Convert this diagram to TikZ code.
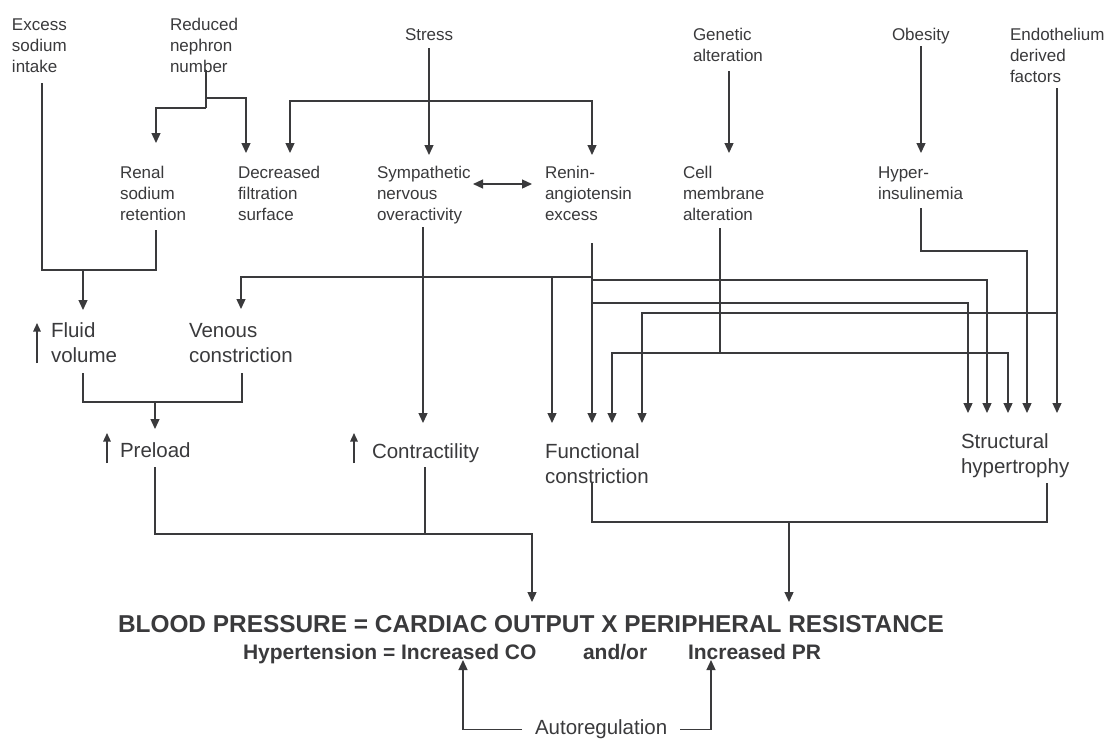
\documentclass[tikz,border=0pt]{standalone}
\usepackage{fontspec}
\setmainfont{Liberation Sans}
\usetikzlibrary{arrows.meta}
\definecolor{ink}{RGB}{58,58,60}
\begin{document}
\begin{tikzpicture}[x=1pt,y=-1pt,
  ln/.style={draw=ink, line width=1.3pt},
  arr/.style={ln, -{Triangle[width=9pt,length=10pt]}},
  dbl/.style={ln, {Triangle[width=9pt,length=10pt]}-{Triangle[width=9pt,length=10pt]}},
  uparr/.style={ln, -{Triangle[width=7.5pt,length=8.5pt]}},
  sm/.style={inner sep=0pt, outer sep=0pt, anchor=north west, align=left, text=ink, font=\fontsize{17}{21}\selectfont},
  md/.style={inner sep=0pt, outer sep=0pt, anchor=north west, align=left, text=ink, font=\fontsize{20.5}{25}\selectfont},
  mdb/.style={inner sep=0pt, outer sep=0pt, anchor=base west, text=ink, font=\fontsize{20.5}{25}\selectfont},
  big/.style={inner sep=0pt, outer sep=0pt, anchor=base west, text=ink, font=\bfseries\fontsize{24.4}{29}\selectfont},
  mid/.style={inner sep=0pt, outer sep=0pt, anchor=base west, text=ink, font=\bfseries\fontsize{21}{25}\selectfont},
]
\useasboundingbox[fill=white] (0,0) rectangle (1110,740);

% ---- top row
\node[sm] (excess)  at (12,15.3)   {\strut Excess\\sodium\\intake\strut};
\node[sm] (reduced) at (170,15.3)  {\strut Reduced\\nephron\\number\strut};
\node[sm] (stress)  at (405,25.3)  {\strut Stress\strut};
\node[sm] (genetic) at (693,25.3)  {\strut Genetic\\alteration\strut};
\node[sm] (obesity) at (892,25.3)  {\strut Obesity\strut};
\node[sm] (endo)    at (1010,25.3) {\strut Endothelium\\derived\\factors\strut};

% ---- second row
\node[sm] (renal)     at (120,163.3) {\strut Renal\\sodium\\retention\strut};
\node[sm] (decreased) at (238,163.3) {\strut Decreased\\filtration\\surface\strut};
\node[sm] (symp)      at (377,163.3) {\strut Sympathetic\\nervous\\overactivity\strut};
\node[sm] (renin)     at (545,163.3) {\strut Renin-\\angiotensin\\excess\strut};
\node[sm] (cell)      at (683,163.3) {\strut Cell\\membrane\\alteration\strut};
\node[sm] (hyper)     at (878,163.3) {\strut Hyper-\\insulinemia\strut};

% ---- third / fourth rows
\node[md] (fluid)      at (51,319.5)  {\strut Fluid\\volume\strut};
\node[md] (venous)     at (189,319.5) {\strut Venous\\constriction\strut};
\node[md] (preload)    at (120,439.5) {\strut Preload\strut};
\node[md] (contract)   at (372,440.5) {\strut Contractility\strut};
\node[md] (functional) at (545,440.5) {\strut Functional\\constriction\strut};
\node[md] (structural) at (961,430.5) {\strut Structural\\hypertrophy\strut};

% ---- bottom
\node[big] (bp)    at (118,632) {\strut BLOOD PRESSURE = CARDIAC OUTPUT X PERIPHERAL RESISTANCE};
\node[mid] (hyp)   at (243,659) {\strut Hypertension = Increased CO};
\node[mid] (andor) at (583,659) {\strut and/or};
\node[mid] (incpr) at (688,659) {\strut Increased PR};
\node[mdb] (autoreg) at (535,734.5) {Autoregulation};

% ---- small "increase" arrows
\draw[uparr] (37,363) -- (37,323);
\draw[uparr] (107,463) -- (107,433);
\draw[uparr] (354,463) -- (354,433);

% ---- excess sodium + renal retention -> fluid volume
\draw[ln, shorten <=4.7pt, shorten >=3.7pt] (42,0 |- excess.south) -- (42,270) -- (156,270) -- (156,0 |- renal.south);
\draw[arr, shorten >=9.5pt] (83,270) -- (83,0 |- fluid.north);

% ---- reduced nephron number
\draw[ln] (206,70) -- (206,108);
\draw[arr, shorten >=20.3pt] (206,108) -- (156,108) -- (156,0 |- renal.north);
\draw[arr, shorten >=10.3pt] (206,98) -- (246,98) -- (246,0 |- decreased.north);

% ---- stress
\draw[arr, shorten <=1.7pt, shorten >=8.3pt] (429,0 |- stress.south) -- (429,0 |- symp.north);
\draw[arr, shorten >=10.3pt] (429,101) -- (290,101) -- (290,0 |- decreased.north);
\draw[arr, shorten >=8.3pt] (429,101) -- (592,101) -- (592,0 |- renin.north);

% ---- sympathetic <-> renin
\draw[dbl, shorten <=2.5pt, shorten >=13pt] (symp.east |- 0,184) -- (renin.west |- 0,184);

% ---- genetic, obesity
\draw[arr, shorten <=3.7pt, shorten >=10.3pt] (729,0 |- genetic.south) -- (729,0 |- cell.north);
\draw[arr, shorten >=10.3pt] (921,0 |- obesity.south) -- (921,0 |- hyper.north);

% ---- endothelium derived factors
\draw[arr, shorten >=17.5pt] (1057,0 |- endo.south) -- (1057,0 |- structural.north);
\draw[arr, shorten >=17.5pt] (1057,313) -- (642,313) -- (642,0 |- functional.north);

% ---- hyperinsulinemia
\draw[arr, shorten <=2.7pt, shorten >=17.5pt] (921,0 |- hyper.south) -- (921,251) -- (1027,251) -- (1027,0 |- structural.north);

% ---- renin-angiotensin excess
\draw[arr, shorten <=16.7pt, shorten >=17.5pt] (592,0 |- renin.south) -- (592,0 |- functional.north);
\draw[arr, shorten >=10.5pt] (592,277) -- (241,277) -- (241,0 |- venous.north);
\draw[arr, shorten >=17.5pt] (552,277) -- (552,0 |- functional.north);
\draw[arr, shorten >=17.5pt] (592,280) -- (987,280) -- (987,0 |- structural.north);
\draw[arr, shorten >=17.5pt] (592,303) -- (968,303) -- (968,0 |- structural.north);

% ---- sympathetic overactivity -> contractility
\draw[arr, shorten <=0.7pt, shorten >=17.5pt] (423,0 |- symp.south) -- (423,0 |- contract.north);

% ---- cell membrane alteration
\draw[ln, shorten <=1.7pt] (720,0 |- cell.south) -- (720,353);
\draw[arr, shorten >=17.5pt] (720,353) -- (612,353) -- (612,0 |- functional.north);
\draw[arr, shorten >=17.5pt] (720,353) -- (1008,353) -- (1008,0 |- structural.north);

% ---- fluid volume + venous constriction -> preload
\draw[ln, shorten <=3.5pt, shorten >=3.5pt] (83,0 |- fluid.south) -- (83,402) -- (242,402) -- (242,0 |- venous.south);
\draw[arr, shorten >=10.5pt] (155,402) -- (155,0 |- preload.north);

% ---- preload + contractility -> cardiac output
\draw[arr, shorten <=2.5pt, shorten >=9.7pt] (155,0 |- preload.south) -- (155,534) -- (532,534) -- (532,0 |- bp.north);
\draw[ln, shorten <=1.5pt] (425,0 |- contract.south) -- (425,534);

% ---- functional + structural -> peripheral resistance
\draw[ln, shorten <=-8.5pt, shorten >=2.5pt] (592,0 |- functional.south) -- (592,522) -- (1047,522) -- (1047,0 |- structural.south);
\draw[arr, shorten >=9.7pt] (789,522) -- (789,0 |- bp.north);

% ---- autoregulation
\draw[arr, shorten <=13pt, shorten >=-6.5pt] (autoreg.west |- 0,729.5) -- (463,729.5) -- (463,0 |- hyp.south);
\draw[arr, shorten <=13pt, shorten >=-6.5pt] (autoreg.east |- 0,729.5) -- (711,729.5) -- (711,0 |- incpr.south);
\end{tikzpicture}
\end{document}
